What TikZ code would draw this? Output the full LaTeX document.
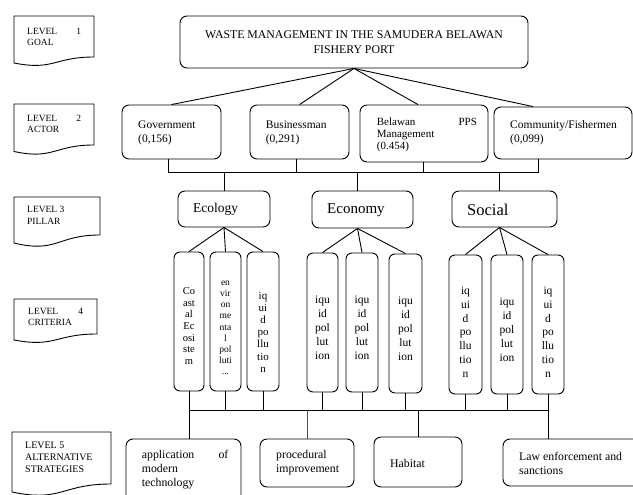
\documentclass[tikz,border=0pt]{standalone}
\usepackage{fontspec}
\setmainfont{Liberation Serif}
\usetikzlibrary{calc}
\newcommand\myfs[2]{\fontsize{#1}{#2}\selectfont}
\tikzset{
  box/.style={draw, line width=0.9pt, rounded corners=7pt, inner sep=0pt},
  conn/.style={line width=0.9pt},
  thinconn/.style={line width=0.5pt, black!70},
  docline/.style={draw, line width=0.9pt},
  txt/.style={inner sep=0pt, anchor=west, align=left, font=\myfs{11.5}{14.5}},
  ctxt/.style={inner sep=0pt, anchor=center, align=center},
  lvl/.style={inner sep=0pt, anchor=west, align=left, font=\myfs{9.5}{11.5}}
}
\newcommand\rbox[6][]{\node[box,#1, minimum width={#5-#3}, minimum height={#6-#4}] (#2) at ({(#3+#5)/2},{(#4+#6)/2}) {};}
\newcommand\docbox[5]{\draw[docline] (#1,#3) -- (#2,#3) -- (#2,#5) .. controls ({(#1+#2)/2},#5) and ({(#1+#2)/2},{#4+1.31*(#4-#5)}) .. (#1,#4) -- cycle;}
\begin{document}
\begin{tikzpicture}[x=1pt,y=-1pt]
\useasboundingbox (0,0) rectangle (633,495);
\fill[white] (0,0) rectangle (633,495);

% level shapes
\docbox{14}{94}{16}{63}{57}
\docbox{14}{94}{104}{151.5}{145}
\docbox{14}{100}{197}{243}{235}
\docbox{14}{97}{299}{340}{334}
\docbox{12}{111}{432}{492}{484}
\node[lvl, text width=54] (t1) at (27,37) {LEVEL\hfill 1\\GOAL};
\node[lvl, text width=54] (t2) at (27,124) {LEVEL\hfill 2\\ACTOR};
\node[lvl] (t3) at (27,215.5) {LEVEL 3\\PILLAR};
\node[lvl, text width=55] (t4) at (28,317) {LEVEL\hfill 4\\CRITERIA};
\node[lvl, font=\myfs{10}{12}] (t5) at (25,457) {LEVEL 5\\ALTERNATIVE\\STRATEGIES};

% boxes
\rbox{goal}{180}{16}{528}{68}
\rbox{gov}{122}{105}{221}{159}
\rbox{bus}{250}{105}{349}{159}
\rbox{bel}{360}{105}{488}{162}
\rbox{comm}{494}{107}{632}{159}
\rbox{eco}{178}{191}{270}{227}
\rbox{econ}{312}{191}{413}{228}
\rbox{soc}{452}{191}{557}{227}
\rbox[rounded corners=6pt]{c1}{174}{252}{204}{391}
\rbox[rounded corners=6pt]{c2}{210}{252}{241}{391}
\rbox[rounded corners=6pt]{c3}{247}{252}{279}{391}
\rbox[rounded corners=6pt]{e1}{307}{253}{338}{392}
\rbox[rounded corners=6pt]{e2}{346}{253}{378}{392}
\rbox[rounded corners=6pt]{e3}{389}{254}{422}{393}
\rbox[rounded corners=6pt]{s1}{449}{255}{482}{394}
\rbox[rounded corners=6pt]{s2}{491}{255}{523}{394}
\rbox[rounded corners=6pt]{s3}{532}{255}{564}{394}
\rbox{app}{126}{439}{241}{505}
\rbox{proc}{260}{439}{354}{487}
\rbox{hab}{374}{437}{462}{487}
\rbox{law}{503}{439}{645}{486}

% connectors goal -> actors
\draw[conn] (goal.south) -- (gov.north);
\draw[conn] (goal.south) -- (bus.north);
\draw[conn] (goal.south) -- ([xshift=-6pt]bel.north);
\draw[conn] (goal.south) -- ([xshift=-30pt]comm.north);

% actors -> pillars
\coordinate (busA) at (0,172);
\coordinate (ga) at ([xshift=-3pt]gov.south);
\coordinate (ba) at ([xshift=-3pt]bus.south);
\coordinate (la) at ([xshift=-1pt]bel.south);
\coordinate (ca) at ([xshift=-25pt]comm.south);
\coordinate (ena) at ([xshift=-5pt]econ.north);
\coordinate (sna) at ([xshift=-5pt]soc.north);
\draw[conn] (ga) -- (ga |- busA) -- (ca |- busA) -- (ca);
\draw[conn] (ba) -- (ba |- busA);
\draw[conn] (la) -- (la |- busA);
\draw[conn] (eco.north) -- (eco.north |- busA);
\draw[conn] (ena) -- (ena |- busA);
\draw[conn] (sna) -- (sna |- busA);

% pillars -> criteria
\coordinate (es) at ([xshift=-5pt]econ.south);
\coordinate (ss) at ([xshift=-5pt]soc.south);
\foreach \k in {c1,c2,c3} {\draw[conn] (eco.south) -- (\k.north);}
\foreach \k in {e1,e2,e3} {\draw[conn] (es) -- (\k.north);}
\foreach \k in {s1,s2,s3} {\draw[conn] (ss) -- (\k.north);}

% criteria -> strategies
\coordinate (busB) at (0,410);
\draw[conn] (c1.south |- busB) -- (s3.south |- busB);
\foreach \k in {c1,c2,c3,e1,e2,e3,s1,s2,s3} {\draw[conn] (\k.south) -- (\k.south |- busB);}
\draw[conn] (c1.south |- busB) -- (c1.south |- app.north);
\draw[thinconn] (proc.north |- busB) -- (proc.north);
\draw[conn] (hab.north |- busB) -- (hab.north);
\draw[conn] (s3.south |- busB) -- (s3.south |- law.north);

% texts
\node[ctxt, font=\myfs{11.8}{15}] (goalt) at (354,42.5) {WASTE MANAGEMENT IN THE SAMUDERA BELAWAN\\FISHERY PORT};
\node[txt] (govt) at (138,133) {Government\\(0,156)};
\node[txt] (bust) at (265.7,133) {Businessman\\(0,291)};
\begin{scope}
\clip (360,105) rectangle (488,151.5);
\node[txt, text width=100, font=\myfs{11}{12.3}] (belt) at (376.7,134.7) {Belawan\hfill PPS\\Management\\(0.454)};
\end{scope}
\node[txt] (commt) at (510,132.5) {Community/Fishermen\\(0,099)};

\node[txt, font=\myfs{13.5}{16}] (ecot) at (193,209) {Ecology};
\node[txt, font=\myfs{15}{18}] (econt) at (327,210.5) {Economy};
\node[txt, font=\myfs{16.5}{19}] (soct) at (467,210) {Social};

\node[ctxt, font=\myfs{10.5}{11.6}] (c1t) at (189,326) {Co\\ast\\al\\Ec\\osi\\ste\\m};
\node[ctxt, font=\myfs{9.5}{11.2}] (c2t) at (225.5,328) {en\\vir\\on\\me\\nta\\l\\pol\\luti\\...};
\node[ctxt, font=\myfs{11}{12.2}] (c3t) at (263,332) {iq\\ui\\d\\po\\llu\\tio\\n};
\node[ctxt, font=\myfs{11.5}{14}] (e1t) at (322.5,328) {iqu\\id\\pol\\lut\\ion};
\node[ctxt, font=\myfs{11.5}{14}] (e2t) at (362,328) {iqu\\id\\pol\\lut\\ion};
\node[ctxt, font=\myfs{11.5}{14}] (e3t) at (405.5,329) {iqu\\id\\pol\\lut\\ion};
\node[ctxt, font=\myfs{11.5}{13.8}] (s1t) at (465.5,332) {iq\\ui\\d\\po\\llu\\tio\\n};
\node[ctxt, font=\myfs{11.5}{14}] (s2t) at (507,330) {iqu\\id\\pol\\lut\\ion};
\node[ctxt, font=\myfs{11.5}{13.8}] (s3t) at (548,332) {iq\\ui\\d\\po\\llu\\tio\\n};

\node[txt, text width=86.5, font=\myfs{11.8}{14}] (appt) at (141.7,470) {application\hfill of\\modern\\technology};
\node[txt, font=\myfs{11.8}{14}] (proct) at (276,463) {procedural\\improvement};
\node[txt, font=\myfs{11.8}{14}] (habt) at (390,463) {Habitat};
\node[txt, font=\myfs{11.8}{14}] (lawt) at (519,463) {Law enforcement and\\sanctions};
\end{tikzpicture}
\end{document}
